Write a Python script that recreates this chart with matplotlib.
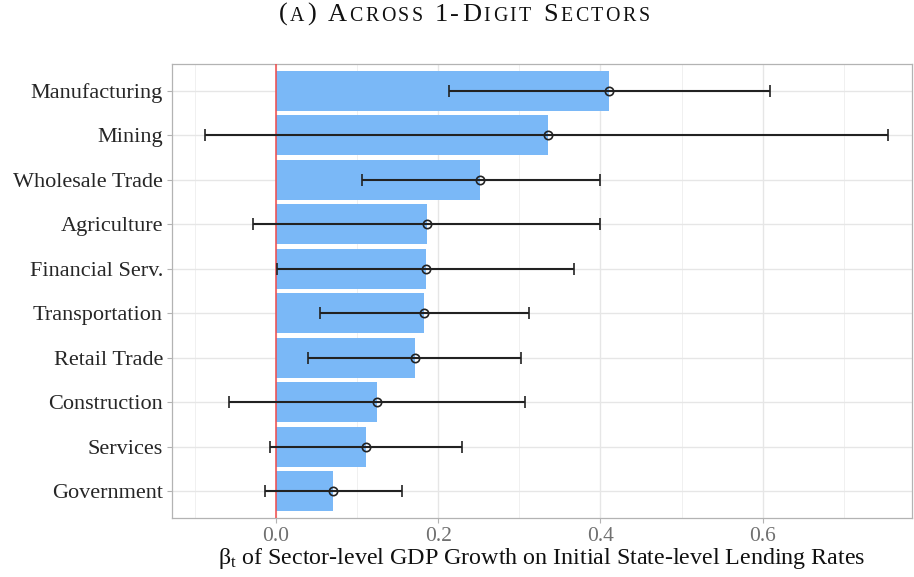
import matplotlib
matplotlib.use("Agg")
import matplotlib.pyplot as plt
import matplotlib.transforms as mtransforms
import numpy as np

plt.rcParams['font.family'] = ['Liberation Serif', 'DejaVu Serif']
plt.rcParams['mathtext.fontset'] = 'custom'
plt.rcParams['mathtext.rm'] = 'Liberation Serif'
plt.rcParams['mathtext.it'] = 'Liberation Serif:italic'

# sector coefficients with 95% intervals, listed top to bottom
sectors = ["Manufacturing", "Mining", "Wholesale Trade", "Agriculture",
           "Financial Serv.", "Transportation", "Retail Trade",
           "Construction", "Services", "Government"]
beta = [0.411, 0.335, 0.252, 0.186, 0.185, 0.183, 0.171, 0.125, 0.111, 0.071]
ci_low = [0.213, -0.087, 0.106, -0.028, 0.002, 0.054, 0.039, -0.058, -0.007, -0.013]
ci_high = [0.609, 0.755, 0.400, 0.400, 0.367, 0.312, 0.302, 0.307, 0.229, 0.155]

y = np.arange(len(sectors))[::-1]
beta = np.array(beta)
err = np.vstack([beta - np.array(ci_low), np.array(ci_high) - beta])

fig = plt.figure(figsize=(9.14, 5.77), dpi=100)
ax = fig.add_axes([0.1882, 0.1028, 0.8096, 0.786])

ax.barh(y, beta, height=0.9, color="#7ab8f7", zorder=2)
ax.axvline(0, color="#f04a4a", lw=1.1, zorder=3)
ax.errorbar(beta, y, xerr=err, fmt="o", color="#222222", ecolor="#222222",
            elinewidth=1.5, capsize=4, capthick=1.5, markersize=6,
            markerfacecolor="none", markeredgecolor="#222222",
            markeredgewidth=1.2, zorder=4)

ax.set_xlim(-0.128, 0.784)
ax.set_ylim(-0.6, 9.6)
ax.set_yticks(y)
ax.set_yticklabels(sectors)
ax.set_xticks([0.0, 0.2, 0.4, 0.6])
ax.set_xticklabels(["0.0", "0.2", "0.4", "0.6"])
ax.set_xticks([-0.1, 0.1, 0.3, 0.5, 0.7], minor=True)

ax.grid(True, which="major", color="#e6e6e6", lw=1.0, zorder=0)
ax.grid(True, which="minor", axis="x", color="#f0f0f0", lw=0.7, zorder=0)
ax.set_axisbelow(True)
for s in ax.spines.values():
    s.set_color("#b3b3b3")
    s.set_linewidth(0.9)

ax.tick_params(axis="both", which="major", length=3.5, color="#b3b3b3",
               width=0.8)
ax.tick_params(axis="x", which="minor", length=0)
ax.tick_params(axis="y", labelsize=16, labelcolor="#262626", pad=3)
ax.tick_params(axis="x", labelsize=15.5, labelcolor="#707070", pad=3)

ax.set_xlabel(r"β$_\mathrm{t}$ of Sector-level GDP Growth on Initial State-level Lending Rates",
              fontsize=17.3, color="#111111", labelpad=0)

# title in small caps, one glyph per text so it can be letter-spaced
big, small = 19, 14.3
pieces = [("(", big), ("A", small), (")", big), (" ", big), ("A", big),
          ("CROSS", small), (" ", big), ("1-D", big), ("IGIT", small),
          (" ", big), ("S", big), ("ECTORS", small)]
glyphs = [(ch, fs) for txt, fs in pieces for ch in txt]
parts = [fig.text(0, 0, ch, fontsize=fs, color="#111111",
                  ha="left", va="baseline",
                  transform=mtransforms.IdentityTransform())
         for ch, fs in glyphs]

# lay the glyphs side by side and centre the whole line
fig.canvas.draw()
r = fig.canvas.get_renderer()
widths = []
for (ch, fs), p in zip(glyphs, parts):
    if ch == " ":
        widths.append(fs * 100 / 72 * 0.25)
    else:
        widths.append(p.get_window_extent(r).width)
track = 2.6
total = sum(widths) + track * (len(parts) - 1)
x0 = 464 - total / 2
ybase = 577 - 21
for p, w in zip(parts, widths):
    p.set_position((x0, ybase))
    x0 += w + track

fig.savefig("out.png", dpi=100)
